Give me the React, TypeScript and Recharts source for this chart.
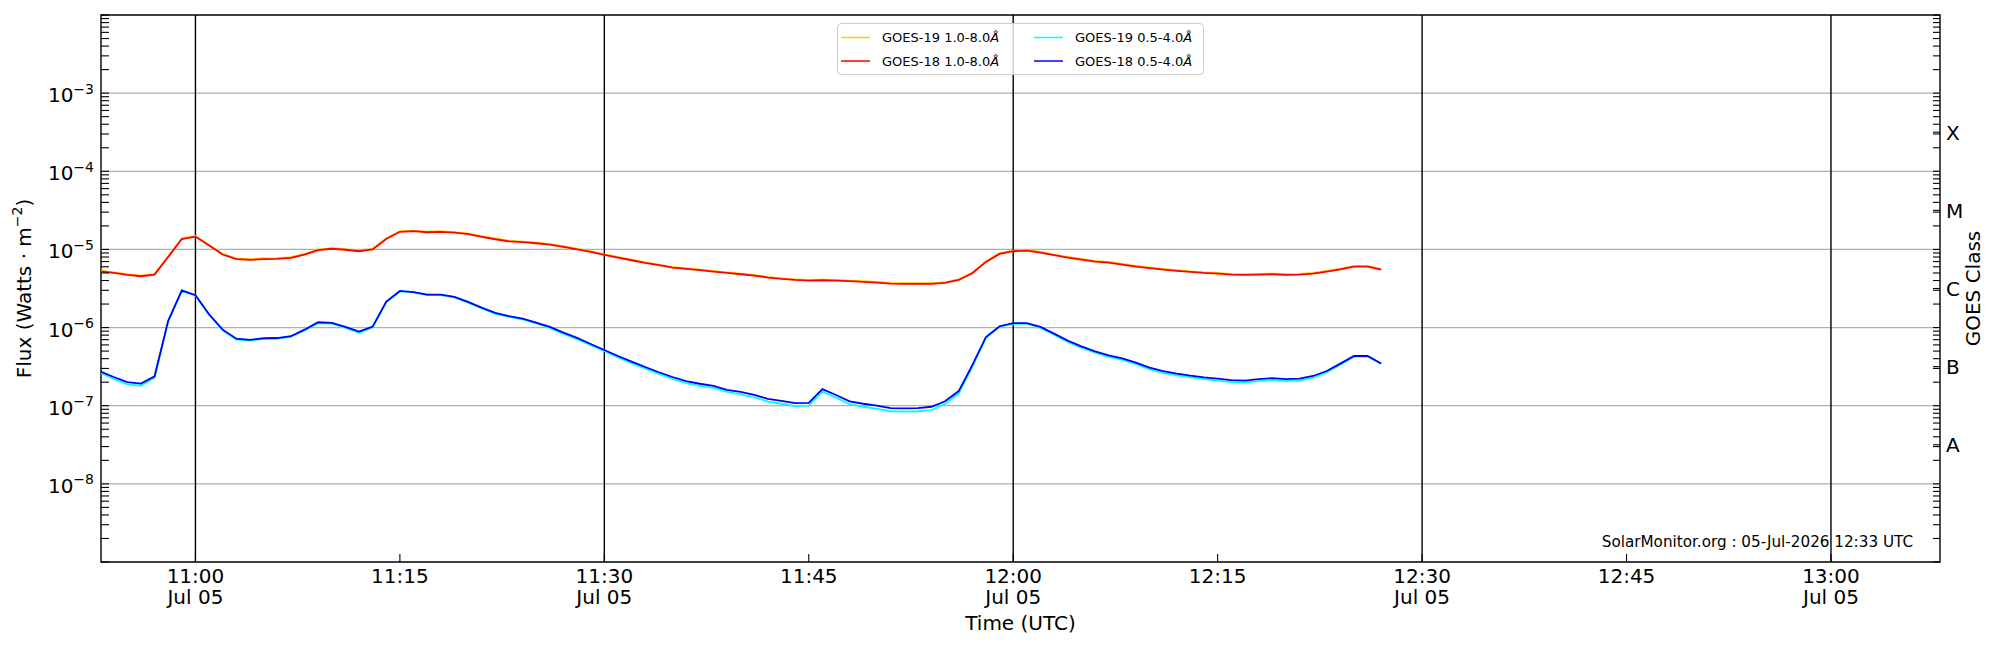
import { LineChart, Line, XAxis, YAxis, ReferenceLine, ReferenceArea } from 'recharts';

// one sample per minute, first sample at 10:53 (minutes relative to 11:00)
const FIRST_MINUTE = -7;

// GOES-18 1.0-8.0 Å
const goes18Long = [
  5.26e-6, 5.0e-6, 4.72e-6, 4.54e-6, 4.76e-6, 8.0e-6, 1.36e-5, 1.46e-5, 1.12e-5, 8.6e-6,
  7.5e-6, 7.35e-6, 7.5e-6, 7.57e-6, 7.8e-6, 8.6e-6, 9.77e-6, 1.02e-5, 9.9e-6, 9.48e-6,
  1.0e-5, 1.36e-5, 1.68e-5, 1.71e-5, 1.66e-5, 1.68e-5, 1.64e-5, 1.57e-5, 1.45e-5, 1.35e-5,
  1.27e-5, 1.24e-5, 1.2e-5, 1.15e-5, 1.08e-5, 1.0e-5, 9.3e-6, 8.5e-6, 7.87e-6, 7.27e-6,
  6.72e-6, 6.28e-6, 5.86e-6, 5.63e-6, 5.42e-6, 5.2e-6, 5.0e-6, 4.81e-6, 4.62e-6, 4.37e-6,
  4.19e-6, 4.07e-6, 3.99e-6, 4.03e-6, 3.99e-6, 3.92e-6, 3.84e-6, 3.77e-6, 3.66e-6, 3.62e-6,
  3.62e-6, 3.62e-6, 3.73e-6, 4.07e-6, 4.95e-6, 6.93e-6, 8.77e-6, 9.48e-6, 9.66e-6, 9.1e-6,
  8.43e-6, 7.87e-6, 7.4e-6, 7.0e-6, 6.79e-6, 6.4e-6, 6.04e-6, 5.75e-6, 5.52e-6, 5.31e-6,
  5.15e-6, 5.0e-6, 4.91e-6, 4.77e-6, 4.72e-6, 4.77e-6, 4.81e-6, 4.72e-6, 4.77e-6, 4.91e-6,
  5.21e-6, 5.57e-6, 6.04e-6, 6.04e-6, 5.52e-6,
];

// GOES-19 1.0-8.0 Å
const goes19Long = [
  5.36e-6, 5.1e-6, 4.82e-6, 4.63e-6, 4.86e-6, 8.15e-6, 1.39e-5, 1.49e-5, 1.14e-5, 8.78e-6,
  7.65e-6, 7.5e-6, 7.65e-6, 7.72e-6, 7.96e-6, 8.78e-6, 9.97e-6, 1.04e-5, 1.01e-5, 9.67e-6,
  1.02e-5, 1.39e-5, 1.71e-5, 1.74e-5, 1.69e-5, 1.71e-5, 1.67e-5, 1.6e-5, 1.48e-5, 1.38e-5,
  1.3e-5, 1.26e-5, 1.22e-5, 1.17e-5, 1.1e-5, 1.02e-5, 9.49e-6, 8.67e-6, 8.03e-6, 7.42e-6,
  6.85e-6, 6.41e-6, 5.98e-6, 5.74e-6, 5.53e-6, 5.3e-6, 5.1e-6, 4.91e-6, 4.71e-6, 4.46e-6,
  4.27e-6, 4.15e-6, 4.07e-6, 4.11e-6, 4.07e-6, 4.0e-6, 3.92e-6, 3.85e-6, 3.73e-6, 3.69e-6,
  3.69e-6, 3.69e-6, 3.8e-6, 4.15e-6, 5.05e-6, 7.07e-6, 8.95e-6, 9.67e-6, 9.85e-6, 9.28e-6,
  8.6e-6, 8.03e-6, 7.55e-6, 7.14e-6, 6.93e-6, 6.53e-6, 6.16e-6, 5.87e-6, 5.63e-6, 5.42e-6,
  5.25e-6, 5.1e-6, 5.01e-6, 4.87e-6, 4.81e-6, 4.87e-6, 4.91e-6, 4.81e-6, 4.87e-6, 5.01e-6,
  5.31e-6, 5.68e-6, 6.16e-6, 6.16e-6, 5.63e-6,
];

// GOES-18 0.5-4.0 Å
const goes18Short = [
  2.76e-7, 2.33e-7, 2.0e-7, 1.92e-7, 2.38e-7, 1.22e-6, 3.0e-6, 2.6e-6, 1.48e-6, 9.4e-7,
  7.2e-7, 6.95e-7, 7.3e-7, 7.35e-7, 7.75e-7, 9.4e-7, 1.17e-6, 1.15e-6, 1.02e-6, 8.9e-7,
  1.03e-6, 2.15e-6, 2.94e-6, 2.85e-6, 2.64e-6, 2.64e-6, 2.47e-6, 2.13e-6, 1.8e-6, 1.54e-6,
  1.4e-6, 1.3e-6, 1.16e-6, 1.02e-6, 8.6e-7, 7.37e-7, 6.17e-7, 5.17e-7, 4.33e-7, 3.67e-7,
  3.13e-7, 2.68e-7, 2.33e-7, 2.07e-7, 1.91e-7, 1.8e-7, 1.6e-7, 1.5e-7, 1.38e-7, 1.22e-7,
  1.15e-7, 1.08e-7, 1.09e-7, 1.63e-7, 1.37e-7, 1.14e-7, 1.06e-7, 1.0e-7, 9.33e-8, 9.24e-8,
  9.33e-8, 9.7e-8, 1.14e-7, 1.54e-7, 3.3e-7, 7.58e-7, 1.04e-6, 1.14e-6, 1.14e-6, 1.02e-6,
  8.37e-7, 6.8e-7, 5.76e-7, 4.97e-7, 4.41e-7, 4.04e-7, 3.56e-7, 3.07e-7, 2.78e-7, 2.58e-7,
  2.43e-7, 2.31e-7, 2.22e-7, 2.12e-7, 2.1e-7, 2.19e-7, 2.25e-7, 2.19e-7, 2.22e-7, 2.4e-7,
  2.78e-7, 3.46e-7, 4.33e-7, 4.33e-7, 3.46e-7,
];

// GOES-19 0.5-4.0 Å
const goes19Short = [
  2.65e-7, 2.2e-7, 1.88e-7, 1.8e-7, 2.28e-7, 1.2e-6, 2.95e-6, 2.58e-6, 1.45e-6, 9.2e-7,
  7.0e-7, 6.8e-7, 7.15e-7, 7.2e-7, 7.6e-7, 9.2e-7, 1.14e-6, 1.12e-6, 9.9e-7, 8.6e-7,
  1.0e-6, 2.1e-6, 2.9e-6, 2.82e-6, 2.6e-6, 2.6e-6, 2.43e-6, 2.09e-6, 1.76e-6, 1.5e-6,
  1.37e-6, 1.27e-6, 1.13e-6, 9.9e-7, 8.3e-7, 7.1e-7, 5.95e-7, 4.97e-7, 4.15e-7, 3.5e-7,
  2.98e-7, 2.55e-7, 2.2e-7, 1.95e-7, 1.8e-7, 1.69e-7, 1.5e-7, 1.4e-7, 1.28e-7, 1.13e-7,
  1.06e-7, 9.9e-8, 1.0e-7, 1.52e-7, 1.27e-7, 1.05e-7, 9.7e-8, 9.1e-8, 8.5e-8, 8.4e-8,
  8.5e-8, 8.8e-8, 1.05e-7, 1.43e-7, 3.15e-7, 7.4e-7, 1.02e-6, 1.12e-6, 1.12e-6, 9.9e-7,
  8.1e-7, 6.55e-7, 5.55e-7, 4.78e-7, 4.22e-7, 3.86e-7, 3.4e-7, 2.92e-7, 2.64e-7, 2.45e-7,
  2.3e-7, 2.19e-7, 2.1e-7, 2.0e-7, 1.98e-7, 2.07e-7, 2.13e-7, 2.07e-7, 2.1e-7, 2.28e-7,
  2.66e-7, 3.35e-7, 4.25e-7, 4.28e-7, 3.42e-7,
];

const TIME_TICKS = [0, 15, 30, 45, 60, 75, 90, 105, 120];
const TIME_TICK_LABELS = ['11:00', '11:15', '11:30', '11:45', '12:00', '12:15', '12:30', '12:45', '13:00'];
const DATE_LABEL = 'Jul 05';
const DAY_LINES = [0, 30, 60, 90, 120];

const FLUX_DECADES = [-8, -7, -6, -5, -4, -3];
const CLASS_LABELS = ['A', 'B', 'C', 'M', 'X'];
const CLASS_EXPONENTS = [-7.5, -6.5, -5.5, -4.5, -3.5];

const X_DOMAIN: [number, number] = [-6.93, 128];
const Y_DOMAIN: [number, number] = [1e-9, 1e-2];

const FONT = '"DejaVu Sans", sans-serif';

const data = goes18Long.map((v, i) => ({
  t: FIRST_MINUTE + i,
  g19long: goes19Long[i],
  g18long: v,
  g19short: goes19Short[i],
  g18short: goes18Short[i],
}));

// log minor ticks 1..9 x 10^e over the whole axis
const minorTicks: number[] = [];
for (let e = -9; e < -2; e++) {
  for (let k = 1; k <= 9; k++) minorTicks.push(k * Math.pow(10, e));
}
minorTicks.push(1e-2);
const classTicks = CLASS_EXPONENTS.map((e) => Math.pow(10, e));

const near = (a: number, b: number) => Math.abs(a - b) < 1e-6;

const FluxTick = (props: any) => {
  const { x, y, payload } = props;
  const lg = Math.log10(payload.value);
  const exp = Math.round(lg);
  const labelled = near(lg, exp) && FLUX_DECADES.includes(exp);
  return (
    <g>
      <line x1={x} x2={x + 8} y1={y} y2={y} stroke="#000" strokeWidth={1.1} />
      {labelled && (
        <text x={x - 7} y={y + 9} textAnchor="end" fontSize={20} fontFamily={FONT} fill="#000">
          <tspan>10</tspan>
          <tspan fontSize={14} dy={-8.5}>{'\u2212' + Math.abs(exp)}</tspan>
        </text>
      )}
    </g>
  );
};

const ClassTick = (props: any) => {
  const { x, y, payload } = props;
  const lg = Math.log10(payload.value);
  const idx = CLASS_EXPONENTS.findIndex((e) => near(e, lg));
  return (
    <g>
      <line x1={x} x2={x - 7} y1={y} y2={y} stroke="#000" strokeWidth={1.1} />
      {idx >= 0 && (
        <text x={x + 6} y={y + 7.3} textAnchor="start" fontSize={20} fontFamily={FONT} fill="#000">
          {CLASS_LABELS[idx]}
        </text>
      )}
    </g>
  );
};

const TimeTick = (props: any) => {
  const { x, y, payload } = props;
  const i = TIME_TICKS.indexOf(payload.value);
  const withDate = payload.value % 30 === 0;
  return (
    <g>
      <line x1={x} x2={x} y1={y} y2={y - 8} stroke="#000" strokeWidth={1.1} />
      <text x={x} y={y + 21} textAnchor="middle" fontSize={20} fontFamily={FONT} fill="#000">
        {TIME_TICK_LABELS[i]}
      </text>
      {withDate && (
        <text x={x} y={y + 41.5} textAnchor="middle" fontSize={20} fontFamily={FONT} fill="#000">
          {DATE_LABEL}
        </text>
      )}
    </g>
  );
};

const legendItems = [
  { label: 'GOES-19 1.0-8.0', color: '#ffcc00', col: 0, row: 0 },
  { label: 'GOES-18 1.0-8.0', color: '#ff0000', col: 0, row: 1 },
  { label: 'GOES-19 0.5-4.0', color: '#00ffff', col: 1, row: 0 },
  { label: 'GOES-18 0.5-4.0', color: '#0000ff', col: 1, row: 1 },
];

export default function App() {
  return (
    <div style={{ position: 'relative', width: 1984, height: 634, fontFamily: FONT, background: '#fff' }}>
      <LineChart width={1984} height={634} data={data} margin={{ top: 7, right: 0, bottom: 0, left: 0 }}>
        <XAxis
          dataKey="t"
          type="number"
          domain={X_DOMAIN}
          ticks={TIME_TICKS}
          interval={0}
          allowDataOverflow
          height={80}
          tickSize={0}
          tickMargin={0}
          tickLine={false}
          axisLine={false}
          tick={TimeTick}
          label={() => (
            <text x={93 + 1839 / 2} y={621.5} textAnchor="middle" fontSize={20} fontFamily={FONT} fill="#000">
              Time (UTC)
            </text>
          )}
        />
        <YAxis
          yAxisId="flux"
          type="number"
          scale="log"
          domain={Y_DOMAIN}
          ticks={minorTicks}
          interval={0}
          allowDataOverflow
          width={93}
          tickSize={0}
          tickMargin={0}
          tickLine={false}
          axisLine={false}
          tick={FluxTick}
          label={() => (
            <text
              x={16}
              y={280.5}
              transform="rotate(-90 16 280.5)"
              textAnchor="middle"
              dominantBaseline="central"
              fontSize={20}
              fontFamily={FONT}
              fill="#000"
            >
              <tspan>Flux (Watts · m</tspan>
              <tspan fontSize={14} dy={-7}>{'\u22122'}</tspan>
              <tspan dy={7}>)</tspan>
            </text>
          )}
        />
        <YAxis
          yAxisId="cls"
          orientation="right"
          type="number"
          scale="log"
          domain={Y_DOMAIN}
          ticks={[...minorTicks, ...classTicks].sort((a, b) => a - b)}
          interval={0}
          allowDataOverflow
          width={52}
          tickSize={0}
          tickMargin={0}
          tickLine={false}
          axisLine={false}
          tick={ClassTick}
        />

        {FLUX_DECADES.map((e) => (
          <ReferenceLine key={'g' + e} yAxisId="flux" y={Math.pow(10, e)} stroke="#b0b0b0" strokeWidth={1.2} />
        ))}
        {DAY_LINES.map((m) => (
          <ReferenceLine key={'d' + m} yAxisId="flux" x={m} stroke="#000" strokeWidth={1.4} />
        ))}

        <Line yAxisId="flux" dataKey="g19long" type="linear" stroke="#ffcc00" strokeWidth={1.8} dot={false} isAnimationActive={false} />
        <Line yAxisId="flux" dataKey="g18long" type="linear" stroke="#ff0000" strokeWidth={1.8} dot={false} isAnimationActive={false} />
        <Line yAxisId="flux" dataKey="g19short" type="linear" stroke="#00ffff" strokeWidth={1.8} dot={false} isAnimationActive={false} />
        <Line yAxisId="flux" dataKey="g18short" type="linear" stroke="#0000ff" strokeWidth={1.8} dot={false} isAnimationActive={false} />

        <ReferenceArea
          yAxisId="flux"
          x1={X_DOMAIN[0]}
          x2={X_DOMAIN[1]}
          y1={Y_DOMAIN[0]}
          y2={Y_DOMAIN[1]}
          fill="none"
          fillOpacity={0}
          stroke="#000"
          strokeWidth={1.4}
        />
      </LineChart>

      {/* overlay: legend, right axis title, footer stamp */}
      <svg
        width={1984}
        height={634}
        style={{ position: 'absolute', left: 0, top: 0, pointerEvents: 'none' }}
      >
        <rect x={829.5} y={15.5} width={366} height={51} rx={4} fill="#fff" fillOpacity={0.8} stroke="#cccccc" strokeWidth={1} />
        {legendItems.map((it) => {
          const lx = it.col === 0 ? 833 : 1026;
          const cy = it.row === 0 ? 29.5 : 53;
          return (
            <g key={it.label}>
              <line x1={lx} x2={lx + 29} y1={cy} y2={cy} stroke={it.color} strokeWidth={1.5} />
              <text x={lx + 41} y={cy + 4.7} fontSize={13} fontFamily={FONT} fill="#000">
                {it.label}
                <tspan fontStyle="italic">Å</tspan>
              </text>
            </g>
          );
        })}

        <text
          x={1965}
          y={280.5}
          transform="rotate(-90 1965 280.5)"
          textAnchor="middle"
          dominantBaseline="central"
          fontSize={20}
          fontFamily={FONT}
          fill="#000"
        >
          GOES Class
        </text>

        <text x={1905} y={538.5} textAnchor="end" fontSize={15.2} fontFamily={FONT} fill="#000">
          SolarMonitor.org : 05-Jul-2026 12:33 UTC
        </text>
      </svg>
    </div>
  );
}
